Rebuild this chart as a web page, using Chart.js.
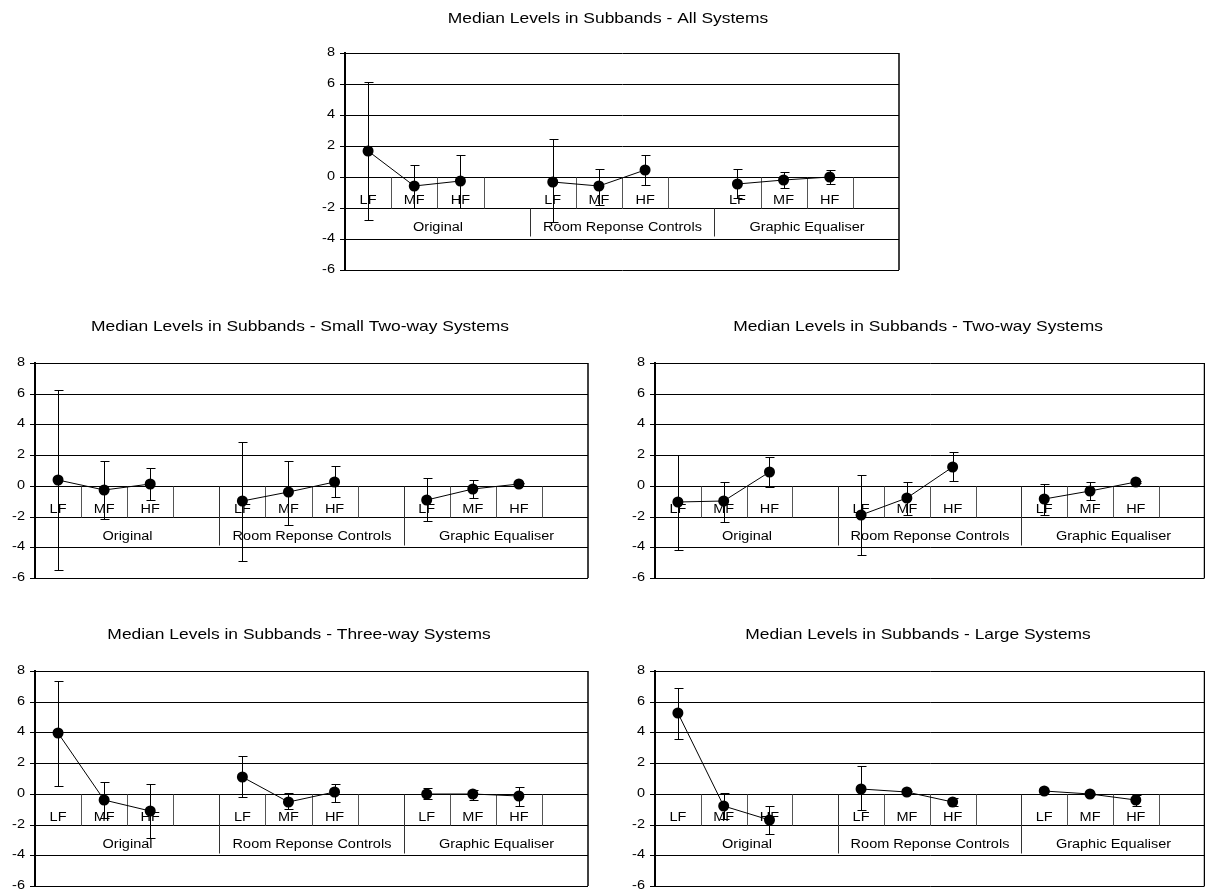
<!DOCTYPE html>
<html>
<head>
<meta charset="utf-8">
<script src="https://cdn.jsdelivr.net/npm/chart.js@4.4.1/dist/chart.umd.min.js"></script>
<style>
  html, body { margin: 0; padding: 0; background: #fff; overflow: hidden; width: 1205px; height: 890px; }
  body { position: relative; }
  canvas { position: absolute; display: block; }
</style>
</head>
<body>
<canvas id="cAll"></canvas>
<canvas id="cSmall"></canvas>
<canvas id="cTwo"></canvas>
<canvas id="cThree"></canvas>
<canvas id="cLarge"></canvas>
<script>
// Category levels
const bandLabels = ['LF', 'MF', 'HF'];
const groupLabels = ['Original', 'Room Reponse Controls', 'Graphic Equaliser'];

// Value axis
const yMin = -6;
const yMax = 8;
const yStep = 2;

// Titles
const titleAll = 'Median Levels in Subbands - All Systems';
const titleSmall = 'Median Levels in Subbands - Small Two-way Systems';
const titleTwo = 'Median Levels in Subbands - Two-way Systems';
const titleThree = 'Median Levels in Subbands - Three-way Systems';
const titleLarge = 'Median Levels in Subbands - Large Systems';

// Medians and error-bar limits, ordered Original LF/MF/HF, Room Reponse LF/MF/HF, Graphic EQ LF/MF/HF
const allMedian = [1.7, -0.56, -0.28, -0.3, -0.6, 0.43, -0.43, -0.17, 0.0];
const allHigh   = [6.15, 0.75, 1.39, 2.42, 0.54, 1.41, 0.49, 0.3, 0.47];
const allLow    = [-2.77, -1.97, -1.97, -2.9, -1.78, -0.51, -1.37, -0.7, -0.43];

const smallMedian = [0.36, -0.26, 0.09, -0.97, -0.43, 0.28, -0.9, -0.21, 0.1];
const smallHigh   = [6.24, 1.65, 1.14, 2.85, 1.65, 1.29, 0.49, 0.36, 0.18];
const smallLow    = [-5.5, -2.15, -0.95, -4.87, -2.58, -0.75, -2.32, -0.77, 0.02];

const twoMedian = [-1.04, -1.0, 0.91, -1.93, -0.8, 1.26, -0.87, -0.33, 0.26];
const twoHigh   = [2.02, 0.26, 1.89, 0.72, 0.28, 2.2, 0.15, 0.26, 0.32];
const twoLow    = [-4.17, -2.33, -0.07, -4.5, -1.91, 0.33, -1.89, -0.91, 0.2];

const threeMedian = [3.94, -0.37, -1.1, 1.12, -0.54, 0.09, 0.02, -0.02, -0.15];
const threeHigh   = [7.37, 0.76, 0.63, 2.49, 0.06, 0.63, 0.35, 0.28, 0.43];
const threeLow    = [0.5, -1.6, -2.88, -0.22, -1.0, -0.5, -0.32, -0.43, -0.76];

const largeMedian = [5.25, -0.8, -1.7, 0.33, 0.11, -0.5, 0.17, -0.02, -0.41];
const largeHigh   = [6.9, 0.07, -0.78, 1.79, 0.2, -0.24, 0.25, 0.05, -0.1];
const largeLow    = [3.55, -1.63, -2.61, -1.07, 0.02, -0.76, 0.1, -0.08, -0.76];

const FONT_FAMILY = '"Liberation Sans", Arial, Helvetica, sans-serif';
const LABEL_PX = 12.5, LABEL_SX = 1.16;
const TITLE_PX = 14.4, TITLE_SX = 1.21;

// Each group has its three bands followed by one empty slot
function slotLabels() {
  const out = [];
  groupLabels.forEach(() => { bandLabels.forEach(b => out.push(b)); out.push(''); });
  return out;
}
function toSlots(values) {
  const out = [];
  for (let g = 0; g < groupLabels.length; g++) {
    for (let b = 0; b < bandLabels.length; b++) out.push(values[g * bandLabels.length + b]);
    out.push(null);
  }
  return out;
}

function wideText(ctx, text, x, y, sx, align) {
  ctx.save();
  ctx.translate(x, y);
  ctx.scale(sx, 1);
  ctx.textAlign = align;
  ctx.fillText(text, 0, 0);
  ctx.restore();
}

// Multi-level category axis on the zero line, y labels, error bars
const axisPlugin = {
  id: 'subbandAxis',
  beforeDatasetsDraw(chart) {
    const o = chart.options.plugins.subbandAxis;
    const ctx = chart.ctx, xs = chart.scales.x, ys = chart.scales.y, ca = chart.chartArea;
    const n = xs.ticks.length;
    const step = xs.getPixelForValue(1) - xs.getPixelForValue(0);
    const edge = k => Math.round(xs.getPixelForValue(0) - step / 2 + k * step) + 0.5;
    const y0 = Math.round(ys.getPixelForValue(0)) + 0.5;
    const y2 = Math.round(ys.getPixelForValue(-2)) + 0.5;

    ctx.save();
    ctx.lineWidth = 1;
    // separators between bands (upper row)
    ctx.strokeStyle = '#555';
    ctx.beginPath();
    for (let k = 1; k < n; k++) {
      if (k % 4 === 0) continue;
      ctx.moveTo(edge(k), y0); ctx.lineTo(edge(k), y2);
    }
    ctx.stroke();
    // separators between groups
    ctx.strokeStyle = '#333';
    ctx.beginPath();
    for (let k = 4; k < n; k += 4) {
      ctx.moveTo(edge(k), o.groupRowsOnly ? y2 : y0); ctx.lineTo(edge(k), y2 + 28);
    }
    ctx.stroke();

    ctx.fillStyle = '#000';
    ctx.font = LABEL_PX + 'px ' + FONT_FAMILY;
    ctx.textBaseline = 'alphabetic';
    xs.ticks.forEach((t, i) => {
      const lbl = chart.data.labels[i];
      if (lbl) wideText(ctx, lbl, xs.getPixelForValue(i), y2 - 5, LABEL_SX, 'center');
    });
    groupLabels.forEach((g, gi) => {
      const cx = (edge(gi * 4) + edge(gi * 4 + 4)) / 2;
      wideText(ctx, g, cx, y2 + 22, LABEL_SX, 'center');
    });

    // value labels
    ctx.textBaseline = 'middle';
    ys.ticks.forEach(t => {
      wideText(ctx, String(t.value), ca.left - 10, ys.getPixelForValue(t.value), LABEL_SX, 'right');
    });

    // right border of the plot
    ctx.strokeStyle = '#000';
    ctx.lineWidth = 1.5;
    ctx.beginPath();
    ctx.moveTo(ca.right, ca.top); ctx.lineTo(ca.right, ca.bottom);
    ctx.stroke();

    // error bars
    const ds = chart.data.datasets[0];
    ctx.lineWidth = 1;
    ctx.strokeStyle = '#000';
    ctx.beginPath();
    ds.data.forEach((v, i) => {
      if (v === null) return;
      const x = Math.round(xs.getPixelForValue(i)) + 0.5;
      const yh = Math.round(ys.getPixelForValue(ds.errHigh[i])) + 0.5;
      const yl = Math.round(ys.getPixelForValue(ds.errLow[i])) + 0.5;
      ctx.moveTo(x, yh); ctx.lineTo(x, yl);
      ctx.moveTo(x - 4, yh); ctx.lineTo(x + 5, yh);
      ctx.moveTo(x - 4, yl); ctx.lineTo(x + 5, yl);
    });
    ctx.stroke();
    ctx.restore();
  },
  afterDraw(chart) {
    const o = chart.options.plugins.subbandAxis;
    const ctx = chart.ctx;
    ctx.save();
    ctx.fillStyle = '#000';
    ctx.font = TITLE_PX + 'px ' + FONT_FAMILY;
    ctx.textBaseline = 'middle';
    wideText(ctx, o.title, o.titleX, o.titleY, TITLE_SX, 'center');
    ctx.restore();
  }
};

function makeChart(id, title, median, high, low, canvasBox, plotBox, titlePos, groupRowsOnly) {
  const el = document.getElementById(id);
  el.width = canvasBox.w; el.height = canvasBox.h;
  el.style.left = canvasBox.l + 'px'; el.style.top = canvasBox.t + 'px';
  el.style.width = canvasBox.w + 'px'; el.style.height = canvasBox.h + 'px';
  const axisWidth = plotBox.l - canvasBox.l;
  return new Chart(el, {
    type: 'line',
    data: {
      labels: slotLabels(),
      datasets: [{
        data: toSlots(median),
        errHigh: toSlots(high),
        errLow: toSlots(low),
        borderColor: '#000',
        borderWidth: 1,
        pointRadius: 5.5,
        pointBackgroundColor: '#000',
        pointBorderColor: '#000',
        pointBorderWidth: 0,
        spanGaps: false,
        tension: 0,
        clip: false
      }]
    },
    options: {
      responsive: false,
      animation: false,
      events: [],
      layout: {
        padding: {
          left: 0,
          top: plotBox.t - canvasBox.t,
          right: canvasBox.l + canvasBox.w - plotBox.r,
          bottom: canvasBox.t + canvasBox.h - plotBox.b
        }
      },
      plugins: {
        legend: { display: false },
        tooltip: { enabled: false },
        title: { display: false },
        subbandAxis: {
          title: title,
          titleX: titlePos.x - canvasBox.l,
          titleY: titlePos.y - canvasBox.t,
          groupRowsOnly: !!groupRowsOnly
        }
      },
      scales: {
        x: { type: 'category', display: false, offset: true },
        y: {
          min: yMin, max: yMax,
          alignToPixels: true,
          ticks: { stepSize: yStep, display: false },
          grid: { color: '#000', lineWidth: 1, drawTicks: true, tickLength: 5, tickColor: '#000' },
          border: { display: true, color: '#000', width: 2 },
          afterFit(scale) {
            scale.width = axisWidth;
            scale.paddingTop = 0; scale.paddingBottom = 0;
          }
        }
      }
    },
    plugins: [axisPlugin]
  });
}

makeChart('cAll', titleAll, allMedian, allHigh, allLow,
  { l: 300, t: 0, w: 620, h: 290 }, { l: 345, r: 899, t: 53, b: 270 }, { x: 608, y: 19.5 }, true);
makeChart('cSmall', titleSmall, smallMedian, smallHigh, smallLow,
  { l: 0, t: 290, w: 605, h: 300 }, { l: 35, r: 588, t: 363, b: 578 }, { x: 300, y: 327 });
makeChart('cTwo', titleTwo, twoMedian, twoHigh, twoLow,
  { l: 610, t: 290, w: 600, h: 300 }, { l: 655, r: 1208, t: 363, b: 578 }, { x: 918, y: 327 });
makeChart('cThree', titleThree, threeMedian, threeHigh, threeLow,
  { l: 0, t: 590, w: 605, h: 310 }, { l: 35, r: 588, t: 671, b: 886 }, { x: 299, y: 635 });
makeChart('cLarge', titleLarge, largeMedian, largeHigh, largeLow,
  { l: 610, t: 590, w: 600, h: 310 }, { l: 655, r: 1208, t: 671, b: 886 }, { x: 918, y: 635 });
</script>
</body>
</html>
